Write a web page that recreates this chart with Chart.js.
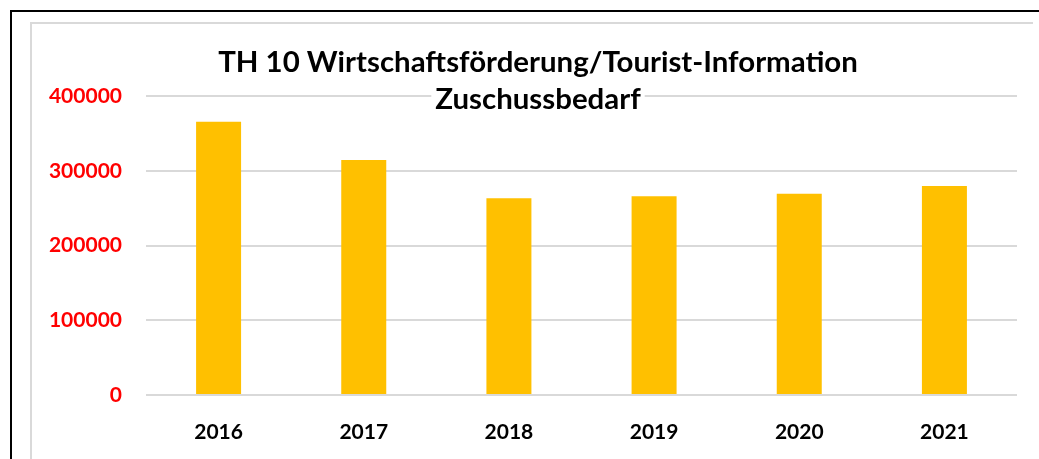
<!DOCTYPE html>
<html>
<head>
<meta charset="utf-8">
<script src="https://cdn.jsdelivr.net/npm/chart.js@4"></script>
<style>
    html, body { margin: 0; padding: 0; background: #fff; }
    body { width: 1039px; height: 459px; position: relative; overflow: hidden; }
    .frame { position: absolute; left: 10px; top: 10px; right: -10px; bottom: -10px; border-top: 2px solid #000; border-left: 2px solid #000; }
    .inner { position: absolute; left: 30px; top: 22px; width: 1001px; height: 480px; border-top: 2px solid #d9d9d9; border-left: 2px solid #d9d9d9; }
    #chart { position: absolute; left: 0; top: 0; }
</style>
</head>
<body>
<div class="frame"></div>
<div class="inner"></div>
<canvas id="chart" width="1039" height="459"></canvas>
<script>
const years = ['2016', '2017', '2018', '2019', '2020', '2021'];
const zuschussbedarf = [365600, 314400, 263100, 265800, 269300, 279600];
const yTickValues = [0, 100000, 200000, 300000, 400000];
const titleLines = ['TH 10 Wirtschaftsförderung/Tourist-Information', 'Zuschussbedarf'];

// title sits over the plot like in the Excel original, so draw it ourselves
const overlayTitle = {
    id: 'overlayTitle',
    afterDraw( chart ) {
        const ctx = chart.ctx;
        ctx.save();
        ctx.font = 'bold 26px Lato';
        const size = 26 * 640 / ctx.measureText( titleLines[0] ).width;
        ctx.font = 'bold ' + size + 'px Lato';
        ctx.textAlign = 'center';
        ctx.textBaseline = 'alphabetic';
        const cx = 538;
        const baselines = [72, 109];
        titleLines.forEach( ( line, i ) => {
            const w = ctx.measureText( line ).width;
            ctx.fillStyle = '#fff';
            ctx.fillRect( cx - w / 2 - 4, baselines[i] - size * 0.8, w + 8, size * 0.95 );
            ctx.fillStyle = '#000';
            ctx.fillText( line, cx, baselines[i] );
        } );
        ctx.restore();
    }
};

const ctx = document.getElementById( 'chart' ).getContext( '2d' );
new Chart( ctx, {
    type: 'bar',
    data: {
        labels: years,
        datasets: [
            {
                label: 'Zuschussbedarf',
                data: zuschussbedarf,
                backgroundColor: '#FFC000',
                barPercentage: 0.31,
                categoryPercentage: 1.0,
            }
        ]
    },
    options: {
        responsive: false,
        animation: false,
        layout: {
            padding: { left: 30, right: 22, top: 96, bottom: 0 }
        },
        plugins: {
            legend: { display: false },
            title: { display: false },
            tooltip: { enabled: false },
        },
        scales: {
            x: {
                grid: { display: false },
                border: { display: false },
                ticks: {
                    color: '#000',
                    font: { family: 'Lato', weight: 'bold', size: 21 },
                    padding: 17,
                },
                afterFit( scale ) { scale.height = 64; }
            },
            y: {
                min: 0,
                max: 400000,
                afterBuildTicks( scale ) {
                    scale.ticks = yTickValues.map( v => ( { value: v } ) );
                },
                grid: { color: '#d9d9d9', lineWidth: 2, drawTicks: false },
                border: { display: false },
                ticks: {
                    color: '#FF0000',
                    font: { family: 'Lato', weight: 'bold', size: 21 },
                    padding: 24,
                    callback: v => String( v ),
                },
                afterFit( scale ) { scale.width = 116; }
            }
        }
    },
    plugins: [overlayTitle]
} );
</script>
</body>
</html>
